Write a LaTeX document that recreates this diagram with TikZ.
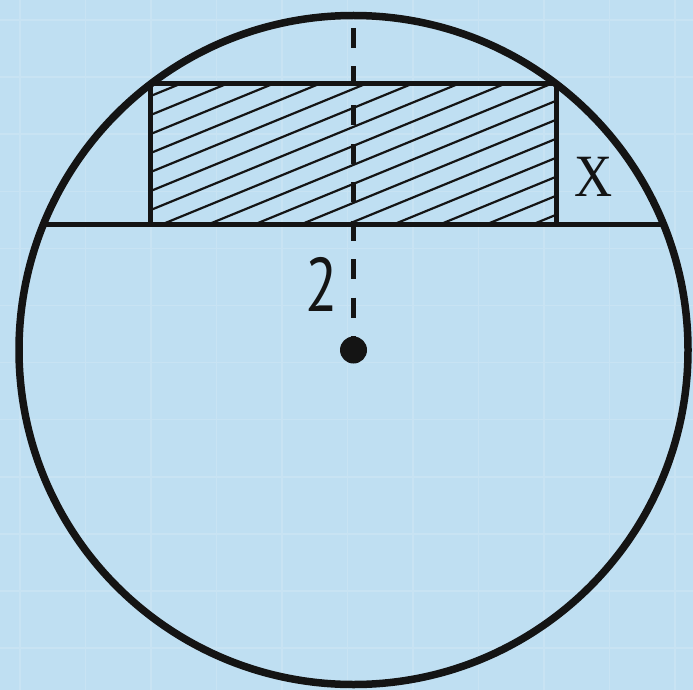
\documentclass[tikz,border=0pt]{standalone}
\usepackage{fontspec}
\newfontfamily\labelsans{PT Sans}
\newfontfamily\labelserif{Liberation Serif}
\definecolor{bgblue}{HTML}{BFDFF2}
\definecolor{gridblue}{HTML}{C8E3F3}
\definecolor{ink}{HTML}{141414}
\begin{document}
\begin{tikzpicture}[x=1pt,y=-1pt,
  thickline/.style={draw=ink,line width=7.5pt},
  rectline/.style={draw=ink,line width=5pt},
  hatchline/.style={draw=ink,line width=2.2pt},
  axisline/.style={draw=ink,line width=5pt,dash pattern=on 20pt off 18.5pt},
  lbl/.style={inner sep=0pt,text=ink}]
\useasboundingbox (0,0) rectangle (693,690);
\fill[bgblue] (0,0) rectangle (693,690);
% faint grid
\foreach \gx in {20,85.5,151,216.5,282,347.5,413,478.5,544,609.5,675}
  \draw[gridblue,line width=1.5pt] (\gx,0) -- (\gx,690);
\foreach \gy in {20,77.1,134.2,191.3,248.4,305.5,362.6,419.7,476.8,533.9,591,648.1}
  \draw[gridblue,line width=1.5pt] (0,\gy) -- (693,\gy);
% key points
\coordinate (O) at (353.5,350);
\coordinate (CL) at (43.6,224);
\coordinate (CR) at (663.4,224);
\coordinate (RTL) at (150.7,84);
\coordinate (RTR) at (556.3,84);
\coordinate (RBL) at (150.7,224);
\coordinate (RBR) at (556.3,224);
\coordinate (AT) at (353.5,28);
% hatching
\begin{scope}
  \clip (RTL) rectangle (RBR);
  \foreach \k in {-1,...,16}
    \draw[hatchline] (150.7,96+19*\k) -- (556.3,96+19*\k-0.41*405.6);
\end{scope}
% rectangle
\draw[rectline] (RBL) -- (RTL) -- (RTR) -- (RBR);
% chord
\draw[rectline] (CL) -- (CR);
% dashed axis
\draw[axisline] (AT) -- (O);
% circle
\draw[thickline] (O) circle (334.5pt);
% centre dot
\fill[ink] (O) circle (13.5pt);
% labels
\node[lbl,font=\labelsans\fontsize{76}{76}\selectfont,xscale=0.78] (two) at (322,284) {2};
\node[lbl,font=\labelserif\fontsize{60}{60}\selectfont,xscale=0.88] (xlab) at (594,177) {X};
\end{tikzpicture}
\end{document}
